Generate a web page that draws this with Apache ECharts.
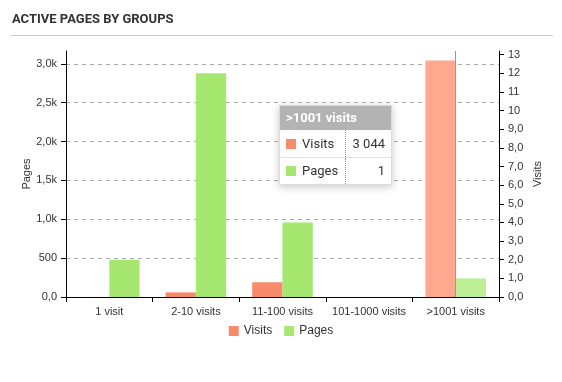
<!DOCTYPE html>
<html>
<head>
<meta charset="utf-8">
<script src="https://cdn.jsdelivr.net/npm/echarts@6/dist/echarts.min.js"></script>
<style>
html,body{margin:0;padding:0;background:#fff;}
#chart{width:562px;height:382px;}
</style>
</head>
<body>
<div id="chart"></div>
<script>
// ---- data ----
var categories = ['1 visit', '2-10 visits', '11-100 visits', '101-1000 visits', '>1001 visits'];
var visits = [0, 60, 190, 0, 3044];
var pages = [2, 12, 4, 0, 1];
var leftAxisMax = 3165;
var rightAxisMax = 13.2;
var hoverIndex = 4;

var chartTitle = 'ACTIVE PAGES BY GROUPS';
var leftAxisName = 'Pages';
var rightAxisName = 'Visits';

function fmtLeft(v) {
  if (v === 0) return '0,0';
  if (v >= 1000) return (v / 1000).toFixed(1).replace('.', ',') + 'k';
  return String(v);
}
function fmtRight(v) {
  if (v < 10) return v.toFixed(1).replace('.', ',');
  return String(Math.round(v));
}
function fmtThousands(v) {
  return String(v).replace(/\B(?=(\d{3})+(?!\d))/g, ' ');
}

var axisFont = 'Arial, "Liberation Sans", Helvetica, sans-serif';
var colVisits = '#f98b6d';
var colPages = '#a6e86f';
var colVisitsHi = '#ffa88f';
var colPagesHi = '#bdf096';

var chart = echarts.init(document.getElementById('chart'), null, {renderer: 'canvas'});

var option = {
  animation: false,
  title: {
    text: chartTitle,
    left: 7,
    top: 8,
    textStyle: {fontFamily: 'Roboto', fontWeight: 'bold', fontSize: 13, color: '#333'}
  },
  graphic: [{
    type: 'line',
    shape: {x1: 11, y1: 35.5, x2: 553, y2: 35.5},
    style: {stroke: '#cccccc', lineWidth: 1}
  }],
  grid: {left: 66, right: 63, top: 51, bottom: 85, containLabel: false},
  legend: {
    data: ['Visits', 'Pages'],
    bottom: 40,
    left: 'center',
    icon: 'rect',
    itemWidth: 10,
    itemHeight: 10,
    itemGap: 12,
    textStyle: {fontFamily: axisFont, fontSize: 12, color: '#333'}
  },
  tooltip: {
    trigger: 'axis',
    alwaysShowContent: true,
    triggerOn: 'none',
    position: [279, 105],
    backgroundColor: 'transparent',
    borderWidth: 0,
    padding: 0,
    extraCssText: 'box-shadow:none;',
    axisPointer: {type: 'line', lineStyle: {color: '#999', width: 1, type: 'solid'}},
    formatter: function (params) {
      var name = params[0].name;
      var rows = params.map(function (p, i) {
        var sq = '<span style="display:inline-block;width:10px;height:10px;background:' + (p.seriesIndex === 0 ? colVisits : colPages) + ';margin-right:6px;vertical-align:-1px"></span>';
        var bb = i < params.length - 1 ? 'border-bottom:1px solid #e2e2e2;' : '';
        return '<tr style="height:27px">' +
          '<td style="' + bb + 'border-right:1px dotted #999;padding:0 6px;white-space:nowrap">' + sq + p.seriesName + '</td>' +
          '<td style="' + bb + 'padding:0 6px;text-align:right;white-space:nowrap">' + fmtThousands(p.value) + '</td></tr>';
      }).join('');
      return '<div style="width:111px;border:1px solid #dcdcdc;background:#fff;box-shadow:0 2px 8px rgba(0,0,0,0.22);font-family:Roboto,sans-serif;font-size:13px;color:#333;line-height:1">' +
        '<div style="background:#b3b3b3;color:#fff;font-weight:bold;font-size:13px;height:24px;line-height:24px;padding:0 6px">' + name + '</div>' +
        '<table style="border-collapse:collapse;width:100%">' + rows + '</table></div>';
    }
  },
  xAxis: {
    type: 'category',
    data: categories,
    axisLine: {lineStyle: {color: '#000', width: 1}},
    axisTick: {show: true, length: 5, lineStyle: {color: '#000'}},
    axisLabel: {fontFamily: axisFont, fontSize: 11, color: '#333', margin: 9, interval: 0},
    splitLine: {show: false}
  },
  yAxis: [{
    type: 'value',
    name: leftAxisName,
    nameLocation: 'middle',
    nameRotate: 90,
    nameGap: 34,
    nameMoveOverlap: false,
    nameTextStyle: {fontFamily: axisFont, fontSize: 11, color: '#333'},
    min: 0,
    max: leftAxisMax,
    interval: 500,
    position: 'left',
    axisLine: {show: true, lineStyle: {color: '#000'}},
    axisTick: {show: true, length: 5, lineStyle: {color: '#000'}},
    axisLabel: {fontFamily: axisFont, fontSize: 11, color: '#333', margin: 9, formatter: fmtLeft, showMaxLabel: false},
    splitLine: {show: true, showMaxLine: false, showMinLine: false, lineStyle: {color: '#aaa', type: [4, 4]}}
  }, {
    type: 'value',
    name: rightAxisName,
    nameLocation: 'middle',
    nameRotate: 90,
    nameGap: 33,
    nameMoveOverlap: false,
    nameTextStyle: {fontFamily: axisFont, fontSize: 11, color: '#333'},
    min: 0,
    max: rightAxisMax,
    interval: 1,
    position: 'right',
    axisLine: {show: true, lineStyle: {color: '#000'}},
    axisTick: {show: true, length: 5, lineStyle: {color: '#000'}},
    axisLabel: {fontFamily: axisFont, fontSize: 11, color: '#333', margin: 9, formatter: fmtRight, showMaxLabel: false},
    splitLine: {show: false}
  }],
  series: [{
    name: 'Visits',
    type: 'bar',
    yAxisIndex: 0,
    data: visits,
    barGap: '0%',
    barCategoryGap: '30%',
    itemStyle: {color: colVisits},
    emphasis: {itemStyle: {color: colVisitsHi}}
  }, {
    name: 'Pages',
    type: 'bar',
    yAxisIndex: 1,
    data: pages,
    barGap: '0%',
    barCategoryGap: '30%',
    itemStyle: {color: colPages},
    emphasis: {itemStyle: {color: colPagesHi}}
  }]
};

chart.setOption(option);
chart.dispatchAction({type: 'highlight', seriesIndex: [0, 1], dataIndex: hoverIndex});
chart.dispatchAction({type: 'showTip', seriesIndex: 0, dataIndex: hoverIndex});
</script>
</body>
</html>
